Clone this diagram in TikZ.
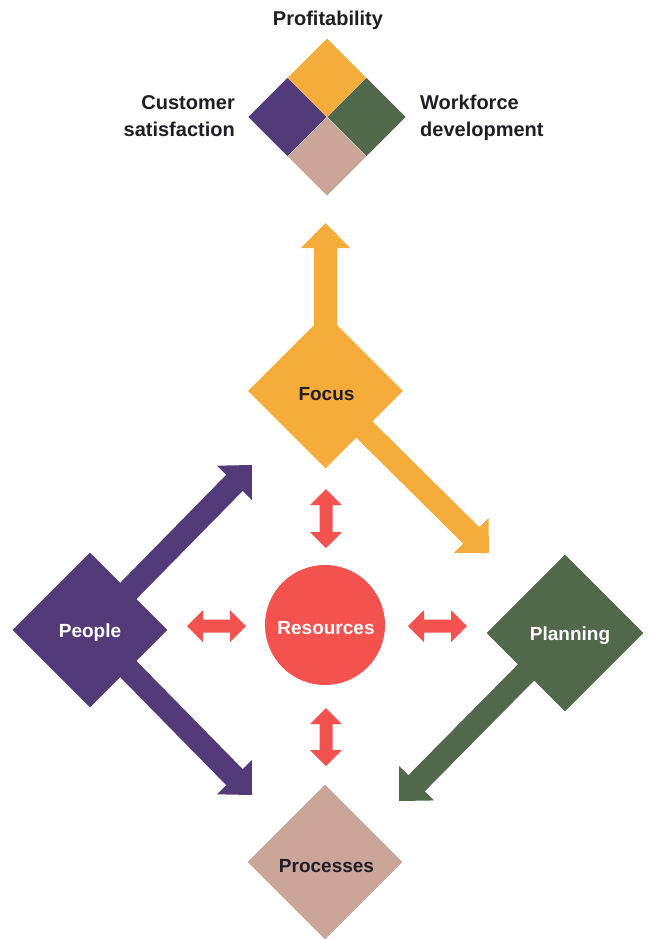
\documentclass[tikz,border=0pt]{standalone}
\usepackage{fontspec}
\setmainfont{Liberation Sans}
\usetikzlibrary{shapes.geometric,calc}
\definecolor{cOrange}{HTML}{F6AC3B}
\definecolor{cPurple}{HTML}{533B7A}
\definecolor{cGreen}{HTML}{51694A}
\definecolor{cPink}{HTML}{CBA598}
\definecolor{cRed}{HTML}{F4524E}
\definecolor{cText}{HTML}{1E1E24}
\pgfdeclarelayer{bg}
\pgfsetlayers{bg,main}
\newcommand\fatarrow[3]{%
  \path ($(#2)!25pt!(#1)$) coordinate (hb);
  \fill[#3] ($(#1)!11.5pt!90:(#2)$) -- ($(hb)!11.5pt!90:(#2)$) -- ($(hb)!24.5pt!90:(#2)$) -- (#2)
    -- ($(hb)!24.5pt!-90:(#2)$) -- ($(hb)!11.5pt!-90:(#2)$) -- ($(#1)!11.5pt!-90:(#2)$) -- cycle;}
\newcommand\dblarrow[2]{%
  \path ($(#1)!16pt!(#2)$) coordinate (ha) ($(#2)!16pt!(#1)$) coordinate (hz);
  \fill[cRed] (#1) -- ($(ha)!16pt!90:(#2)$) -- ($(ha)!6.5pt!90:(#2)$) -- ($(hz)!6.5pt!90:(#2)$)
    -- ($(hz)!16pt!90:(#2)$) -- (#2) -- ($(hz)!16pt!-90:(#2)$) -- ($(hz)!6.5pt!-90:(#2)$)
    -- ($(ha)!6.5pt!-90:(#2)$) -- ($(ha)!16pt!-90:(#2)$) -- cycle;}
\tikzset{
  lbl/.style={font=\fontsize{20}{24}\selectfont\bfseries, text=cText, inner sep=0pt},
  inlbl/.style={font=\fontsize{19}{23}\selectfont\bfseries, inner sep=0pt},
  bigdia/.style={diamond, aspect=1, minimum width=155pt, minimum height=155pt, inner sep=0pt},
  quad/.style={diamond, aspect=1, minimum width=78.5pt, minimum height=78.5pt, inner sep=0pt},
}
\begin{document}
\begin{tikzpicture}[x=1pt,y=-1pt]
\useasboundingbox (0,0) rectangle (650,939);
% objectives diamond
\node[quad, fill=cOrange] (prof) at (327,77.75) {};
\node[quad, fill=cPurple] (cust) at (287.5,117) {};
\node[quad, fill=cGreen] (work) at (366.5,117) {};
\node[quad, fill=cPink] (rest) at (327,156.5) {};
\node[lbl, anchor=base] (tprof) at (328,26) {Profitability};
\node[lbl, anchor=base east] (tcust1) at (235,110) {Customer};
\node[lbl, anchor=base east] (tcust2) at (235,136) {satisfaction};
\node[lbl, anchor=base west] (twork1) at (420,110) {Workforce};
\node[lbl, anchor=base west] (twork2) at (420,136) {development};
% main nodes
\node[bigdia, fill=cOrange] (focus) at (325.5,391) {};
\node[bigdia, fill=cPurple] (people) at (90,630) {};
\node[bigdia, fill=cGreen, minimum width=157pt, minimum height=157pt] (planning) at (565,633) {};
\node[bigdia, fill=cPink] (processes) at (325,862) {};
\node[circle, fill=cRed, minimum size=120pt, inner sep=0pt] (res) at (325,625) {};
\node[inlbl, text=cText] (tfocus) at (326.5,394) {Focus};
\node[inlbl, text=white] (tpeople) at (90,633) {People};
\node[inlbl, text=white] (tplanning) at (570,636) {Planning};
\node[inlbl, text=cText] (tprocesses) at (326.5,866) {Processes};
\node[inlbl, text=white] (tres) at (326,628) {Resources};
% arrow ends
\coordinate (fup) at (325.5,223);
\coordinate (fdr) at (489,553);
\coordinate (pup) at (252,465);
\coordinate (pdn) at (252,795);
\coordinate (pl) at (399,801);
\coordinate (ta) at (326,489); \coordinate (tb) at (326,548);
\coordinate (ba) at (326,708); \coordinate (bb) at (326,766);
\coordinate (la) at (187,626); \coordinate (lb) at (246,626);
\coordinate (ra) at (408,626); \coordinate (rb) at (467,626);
\begin{pgfonlayer}{bg}
\fatarrow{focus.center}{fup}{cOrange}
\fatarrow{focus.center}{fdr}{cOrange}
\fatarrow{people.center}{pup}{cPurple}
\fatarrow{people.center}{pdn}{cPurple}
\fatarrow{planning.center}{pl}{cGreen}
\end{pgfonlayer}
\dblarrow{ta}{tb}
\dblarrow{ba}{bb}
\dblarrow{la}{lb}
\dblarrow{ra}{rb}
\end{tikzpicture}
\end{document}
